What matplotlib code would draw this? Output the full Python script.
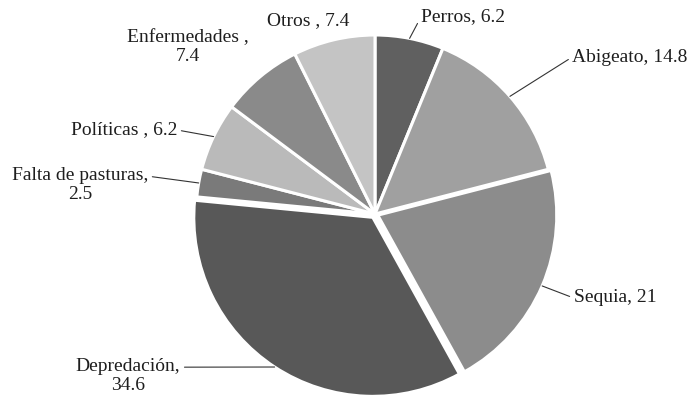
import numpy as np
import matplotlib
matplotlib.use("Agg")
import matplotlib.pyplot as plt

# Causes, clockwise from 12 o'clock
categories = ["Perros", "Abigeato", "Sequia", "Depredación",
              "Falta de pasturas", "Políticas", "Enfermedades", "Otros"]
values = [6.2, 14.8, 21, 34.6, 2.5, 6.2, 7.4, 7.4]
label_texts = ["Perros, 6.2", "Abigeato, 14.8", "Sequia, 21", "Depredación,\n34.6",
               "Falta de pasturas,\n2.5", "Políticas , 6.2", "Enfermedades ,\n7.4",
               "Otros , 7.4"]

colors = ["#606060", "#a0a0a0", "#8c8c8c", "#585858",
          "#7a7a7a", "#bababa", "#8a8a8a", "#c4c4c4"]
explode = [0, 0, 3, 4, 0, 0, 0, 0]

W, H = 693, 397
fig = plt.figure(figsize=(W / 100, H / 100), dpi=100)
ax = fig.add_axes([0, 0, 1, 1])

cx, cy, r = 375, 183, 179
wedges, _ = ax.pie(values, colors=colors, startangle=90, counterclock=False,
                   radius=r, center=(cx, cy), explode=explode,
                   wedgeprops=dict(edgecolor="white", linewidth=2.2), frame=True)
ax.set_xlim(0, W)
ax.set_ylim(0, H)
ax.set_aspect("equal")
ax.axis("off")

# label layout: (text x, text y in px from top, leader anchor on text or None)
layout = [
    (463, 17, (0.0, 0.5)),
    (630, 57, (0.0, 0.5)),
    (615, 298, (0.0, 0.5)),
    (128, 376, (1.0, 0.75)),
    (80, 185, (1.0, 0.75)),
    (124, 130, (1.0, 0.5)),
    (188, 47, None),
    (308, 21, None),
]

font = dict(family="Liberation Serif", size=14, color="#1e1e1e")
for w, txt, (tx, ty, rel) in zip(wedges, label_texts, layout):
    ang = np.deg2rad((w.theta1 + w.theta2) / 2)
    px = w.center[0] + w.r * np.cos(ang)
    py = w.center[1] + w.r * np.sin(ang)
    if rel is None:
        ax.text(tx, H - ty, txt, ha="center", va="center",
                multialignment="center", linespacing=1.1, **font)
    else:
        ax.annotate(txt, xy=(px, py), xytext=(tx, H - ty),
                    ha="center", va="center", multialignment="center",
                    linespacing=1.1,
                    arrowprops=dict(arrowstyle="-", color="#333333", lw=0.8,
                                    relpos=rel, shrinkA=1, shrinkB=0),
                    **font)

fig.savefig("out.png", dpi=100, facecolor="white")
